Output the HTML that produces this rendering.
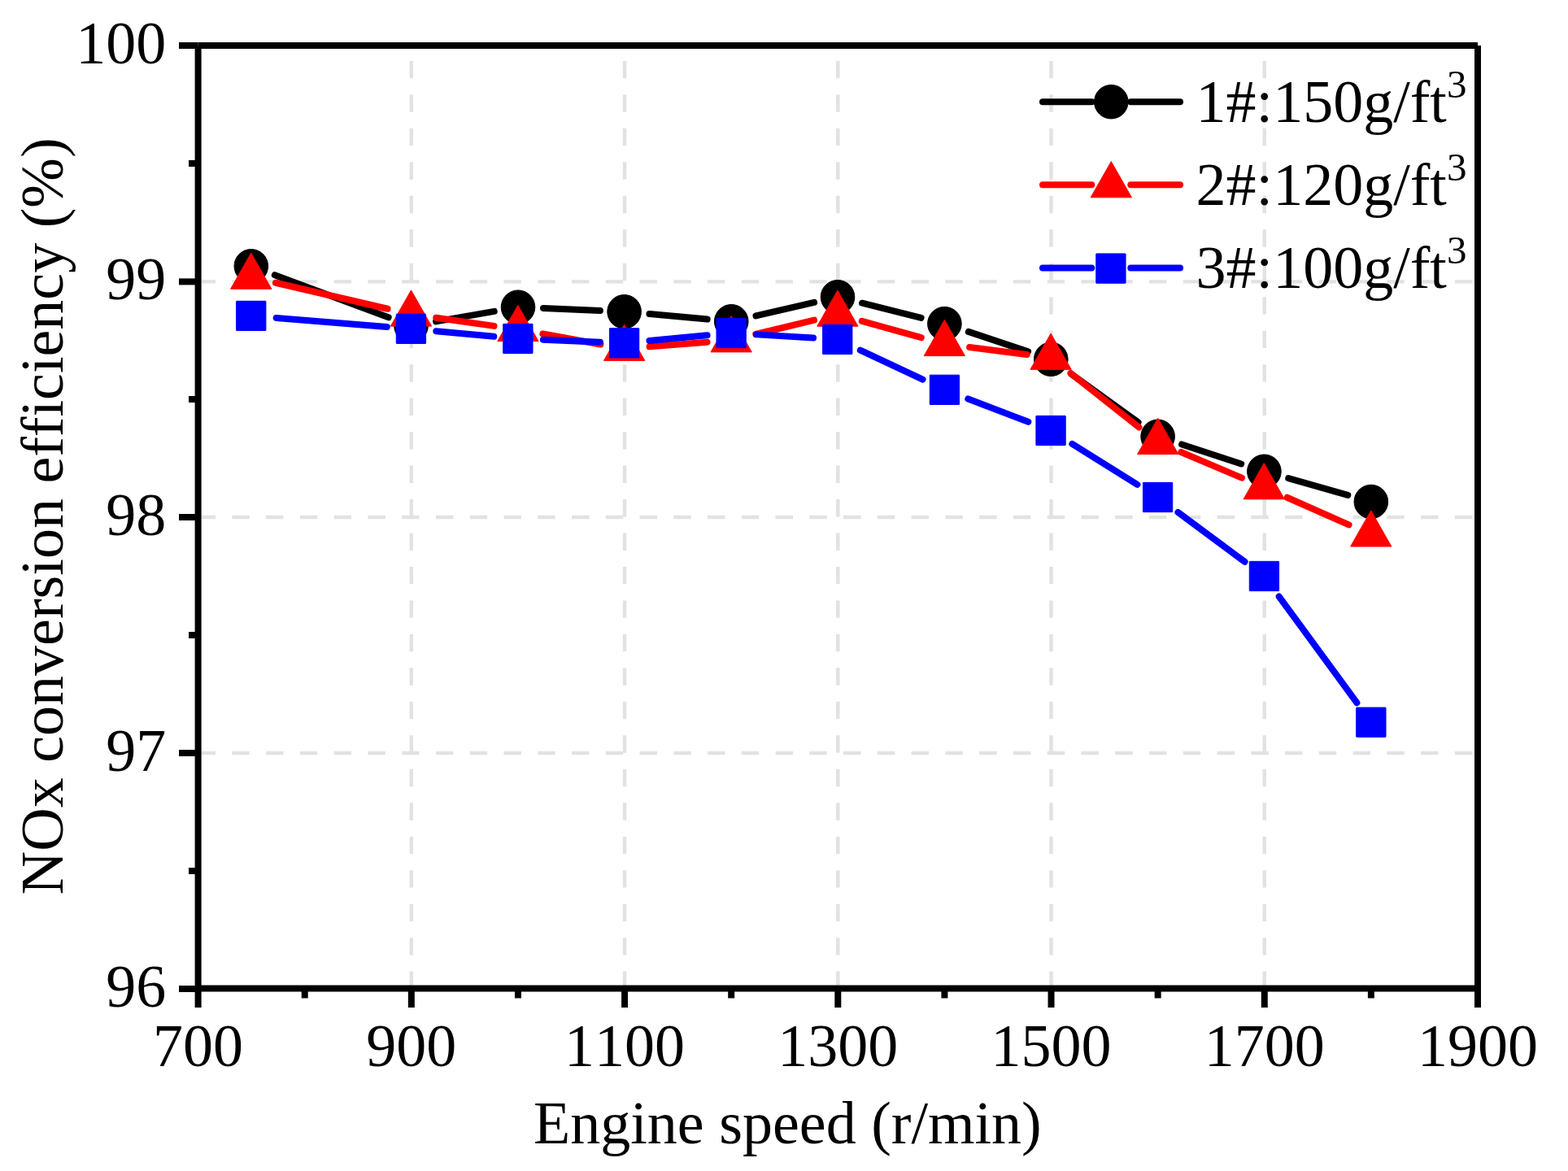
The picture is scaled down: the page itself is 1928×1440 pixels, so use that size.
<!DOCTYPE html>
<html lang="en"><head><meta charset="utf-8"><title>NOx conversion efficiency vs engine speed</title>
<style>
html,body{margin:0;padding:0;background:#fff;}
body{width:1928px;height:1440px;overflow:hidden;font-family:"Liberation Serif",serif;}
svg{display:block;}
</style></head><body>
<svg width="1928" height="1440" viewBox="0 0 1928 1440">
<rect x="0" y="0" width="1928" height="1440" fill="#ffffff"/>
<g stroke="#e2e2e2" stroke-width="4.4" fill="none">
<line x1="243.60" y1="926.00" x2="1817.00" y2="926.00" stroke-dasharray="21.4 20.365"/>
<line x1="243.60" y1="636.00" x2="1817.00" y2="636.00" stroke-dasharray="21.4 20.365"/>
<line x1="243.60" y1="346.40" x2="1817.00" y2="346.40" stroke-dasharray="21.4 20.365"/>
<line x1="505.83" y1="1216.00" x2="505.83" y2="56.00" stroke-dasharray="21.4 20.070"/>
<line x1="768.07" y1="1216.00" x2="768.07" y2="56.00" stroke-dasharray="21.4 20.070"/>
<line x1="1030.30" y1="1216.00" x2="1030.30" y2="56.00" stroke-dasharray="21.4 20.070"/>
<line x1="1292.53" y1="1216.00" x2="1292.53" y2="56.00" stroke-dasharray="21.4 20.070"/>
<line x1="1554.77" y1="1216.00" x2="1554.77" y2="56.00" stroke-dasharray="21.4 20.070"/>
</g>
<g stroke="#000000" stroke-width="8" stroke-linecap="round" fill="none">
<line x1="337.84" y1="338.14" x2="477.67" y2="390.32"/>
<line x1="536.04" y1="395.36" x2="607.74" y2="382.82"/>
<line x1="667.97" y1="379.03" x2="737.93" y2="382.03"/>
<line x1="798.47" y1="386.10" x2="869.67" y2="392.57"/>
<line x1="929.46" y1="388.31" x2="1001.05" y2="371.85"/>
<line x1="1060.07" y1="372.73" x2="1132.59" y2="390.89"/>
<line x1="1190.81" y1="407.91" x2="1264.08" y2="432.35"/>
<line x1="1317.37" y1="459.92" x2="1399.53" y2="519.34"/>
<line x1="1453.05" y1="546.43" x2="1526.19" y2="570.47"/>
<line x1="1584.23" y1="588.20" x2="1657.28" y2="608.90"/>
</g>
<g fill="#000000" stroke="#000000" stroke-width="1" stroke-linejoin="round">
<circle cx="308.80" cy="327.30" r="20.8"/>
<circle cx="505.50" cy="400.70" r="20.8"/>
<circle cx="637.00" cy="377.70" r="20.8"/>
<circle cx="767.60" cy="383.30" r="20.8"/>
<circle cx="899.25" cy="395.25" r="20.8"/>
<circle cx="1030.00" cy="365.20" r="20.8"/>
<circle cx="1161.40" cy="398.10" r="20.8"/>
<circle cx="1292.25" cy="441.75" r="20.8"/>
<circle cx="1423.60" cy="536.75" r="20.8"/>
<circle cx="1554.40" cy="579.75" r="20.8"/>
<circle cx="1685.85" cy="617.00" r="20.8"/>
</g>
<g stroke="#ff0000" stroke-width="8" stroke-linecap="round" fill="none">
<line x1="338.94" y1="347.73" x2="476.57" y2="379.77"/>
<line x1="536.20" y1="390.82" x2="607.49" y2="400.86"/>
<line x1="667.40" y1="410.55" x2="738.43" y2="423.48"/>
<line x1="798.55" y1="426.33" x2="869.54" y2="420.66"/>
<line x1="929.28" y1="411.00" x2="1001.04" y2="393.60"/>
<line x1="1059.78" y1="394.87" x2="1132.73" y2="415.07"/>
<line x1="1192.10" y1="426.93" x2="1262.64" y2="435.94"/>
<line x1="1316.41" y1="458.94" x2="1400.46" y2="525.47"/>
<line x1="1452.29" y1="556.00" x2="1526.90" y2="587.61"/>
<line x1="1582.60" y1="611.75" x2="1658.59" y2="645.38"/>
</g>
<g fill="#ff0000" stroke="#ff0000" stroke-width="1" stroke-linejoin="round">
<polygon points="308.75,311.10 333.90,355.30 283.60,355.30"/>
<polygon points="505.50,356.90 530.65,401.10 480.35,401.10"/>
<polygon points="636.90,375.40 662.05,419.60 611.75,419.60"/>
<polygon points="767.65,399.20 792.80,443.40 742.50,443.40"/>
<polygon points="899.15,388.70 924.30,432.90 874.00,432.90"/>
<polygon points="1029.90,357.00 1055.05,401.20 1004.75,401.20"/>
<polygon points="1161.35,393.40 1186.50,437.60 1136.20,437.60"/>
<polygon points="1292.10,410.10 1317.25,454.30 1266.95,454.30"/>
<polygon points="1423.75,514.30 1448.90,558.50 1398.60,558.50"/>
<polygon points="1554.25,569.60 1579.40,613.80 1529.10,613.80"/>
<polygon points="1685.75,627.80 1710.90,672.00 1660.60,672.00"/>
</g>
<g stroke="#0000ff" stroke-width="8" stroke-linecap="round" fill="none">
<line x1="339.65" y1="390.90" x2="475.80" y2="401.91"/>
<line x1="536.27" y1="407.16" x2="607.28" y2="413.76"/>
<line x1="667.82" y1="417.77" x2="737.92" y2="420.64"/>
<line x1="798.46" y1="418.95" x2="869.58" y2="412.28"/>
<line x1="930.09" y1="411.37" x2="1000.10" y2="415.61"/>
<line x1="1057.80" y1="430.59" x2="1134.52" y2="466.66"/>
<line x1="1190.34" y1="490.42" x2="1264.33" y2="518.85"/>
<line x1="1318.36" y1="545.90" x2="1398.40" y2="595.79"/>
<line x1="1448.50" y1="629.97" x2="1530.54" y2="690.81"/>
<line x1="1572.70" y1="733.52" x2="1668.32" y2="864.23"/>
</g>
<g fill="#0000ff" stroke="#0000ff" stroke-width="1" stroke-linejoin="round">
<rect x="290.60" y="370.25" width="36.3" height="36.3" rx="0.5"/>
<rect x="487.25" y="386.15" width="36.3" height="36.3" rx="0.5"/>
<rect x="618.70" y="398.35" width="36.3" height="36.3" rx="0.5"/>
<rect x="749.45" y="403.70" width="36.3" height="36.3" rx="0.5"/>
<rect x="881.00" y="391.35" width="36.3" height="36.3" rx="0.5"/>
<rect x="1011.60" y="399.25" width="36.3" height="36.3" rx="0.5"/>
<rect x="1143.25" y="461.15" width="36.3" height="36.3" rx="0.5"/>
<rect x="1273.90" y="511.35" width="36.3" height="36.3" rx="0.5"/>
<rect x="1405.45" y="593.35" width="36.3" height="36.3" rx="0.5"/>
<rect x="1536.25" y="690.35" width="36.3" height="36.3" rx="0.5"/>
<rect x="1667.70" y="870.05" width="36.3" height="36.3" rx="0.5"/>
</g>
<g stroke="#000000" stroke-width="8" stroke-linecap="round">
<line x1="1282.0" y1="125.2" x2="1342.3" y2="125.2"/><line x1="1390.3" y1="125.2" x2="1451.0" y2="125.2"/>
</g>
<g fill="#000000" stroke="#000000" stroke-width="1" stroke-linejoin="round">
<circle cx="1366.30" cy="125.20" r="20.8"/>
</g>
<g stroke="#ff0000" stroke-width="8" stroke-linecap="round">
<line x1="1282.0" y1="227.2" x2="1342.3" y2="227.2"/><line x1="1390.3" y1="227.2" x2="1451.0" y2="227.2"/>
</g>
<g fill="#ff0000" stroke="#ff0000" stroke-width="1" stroke-linejoin="round">
<polygon points="1366.30,198.60 1391.45,242.80 1341.15,242.80"/>
</g>
<g stroke="#0000ff" stroke-width="8" stroke-linecap="round">
<line x1="1282.0" y1="329.5" x2="1342.3" y2="329.5"/><line x1="1390.3" y1="329.5" x2="1451.0" y2="329.5"/>
</g>
<g fill="#0000ff" stroke="#0000ff" stroke-width="1" stroke-linejoin="round">
<rect x="1347.75" y="311.95" width="36.3" height="36.3" rx="0.5"/>
</g>
<g stroke="#000" stroke-width="8" fill="none" stroke-linecap="butt">
<line x1="243.60" y1="55.90" x2="1817.00" y2="55.90"/>
<line x1="243.60" y1="1215.60" x2="1817.00" y2="1215.60"/>
<line x1="243.60" y1="56.00" x2="243.60" y2="1216.00"/>
<line x1="1817.00" y1="56.00" x2="1817.00" y2="1216.00"/>
<line x1="220.00" y1="1216.00" x2="243.60" y2="1216.00"/>
<line x1="232.00" y1="1071.00" x2="243.60" y2="1071.00"/>
<line x1="220.00" y1="926.00" x2="243.60" y2="926.00"/>
<line x1="232.00" y1="781.00" x2="243.60" y2="781.00"/>
<line x1="220.00" y1="636.00" x2="243.60" y2="636.00"/>
<line x1="232.00" y1="491.00" x2="243.60" y2="491.00"/>
<line x1="220.00" y1="346.40" x2="243.60" y2="346.40"/>
<line x1="232.00" y1="201.00" x2="243.60" y2="201.00"/>
<line x1="220.00" y1="56.00" x2="243.60" y2="56.00"/>
<line x1="243.60" y1="1216.00" x2="243.60" y2="1239.00"/>
<line x1="374.72" y1="1216.00" x2="374.72" y2="1227.50"/>
<line x1="505.83" y1="1216.00" x2="505.83" y2="1239.00"/>
<line x1="636.95" y1="1216.00" x2="636.95" y2="1227.50"/>
<line x1="768.07" y1="1216.00" x2="768.07" y2="1239.00"/>
<line x1="899.18" y1="1216.00" x2="899.18" y2="1227.50"/>
<line x1="1030.30" y1="1216.00" x2="1030.30" y2="1239.00"/>
<line x1="1161.42" y1="1216.00" x2="1161.42" y2="1227.50"/>
<line x1="1292.53" y1="1216.00" x2="1292.53" y2="1239.00"/>
<line x1="1423.65" y1="1216.00" x2="1423.65" y2="1227.50"/>
<line x1="1554.77" y1="1216.00" x2="1554.77" y2="1239.00"/>
<line x1="1685.88" y1="1216.00" x2="1685.88" y2="1227.50"/>
<line x1="1817.00" y1="1216.00" x2="1817.00" y2="1239.00"/>
</g>
<g font-family="'Liberation Serif', serif" font-size="74" fill="#000" style="font-variant-ligatures:none;font-kerning:none">
<text transform="translate(204.3,1238.00) scale(1,1.012)" text-anchor="end">96</text>
<text transform="translate(204.3,948.00) scale(1,1.012)" text-anchor="end">97</text>
<text transform="translate(204.3,658.00) scale(1,1.012)" text-anchor="end">98</text>
<text transform="translate(204.3,368.00) scale(1,1.012)" text-anchor="end">99</text>
<text transform="translate(204.3,78.00) scale(1,1.012)" text-anchor="end">100</text>
<text transform="translate(243.60,1311.3) scale(1,1.012)" text-anchor="middle">700</text>
<text transform="translate(505.83,1311.3) scale(1,1.012)" text-anchor="middle">900</text>
<text transform="translate(768.07,1311.3) scale(1,1.012)" text-anchor="middle">1100</text>
<text transform="translate(1030.30,1311.3) scale(1,1.012)" text-anchor="middle">1300</text>
<text transform="translate(1292.53,1311.3) scale(1,1.012)" text-anchor="middle">1500</text>
<text transform="translate(1554.77,1311.3) scale(1,1.012)" text-anchor="middle">1700</text>
<text transform="translate(1817.00,1311.3) scale(1,1.012)" text-anchor="middle">1900</text>
<text x="968.4" y="1406.4" text-anchor="middle">Engine speed (r/min)</text>
<text transform="translate(77,634.8) rotate(-90)" text-anchor="middle">NOx conversion efficiency (%)</text>
<text transform="translate(1470.6,150.3) scale(1,1.012)">1#:150g/ft<tspan font-size="49" dy="-29.5">3</tspan></text>
<text transform="translate(1470.6,252.3) scale(1,1.012)">2#:120g/ft<tspan font-size="49" dy="-29.5">3</tspan></text>
<text transform="translate(1470.6,354.3) scale(1,1.012)">3#:100g/ft<tspan font-size="49" dy="-29.5">3</tspan></text>
</g>
</svg>
</body></html>
